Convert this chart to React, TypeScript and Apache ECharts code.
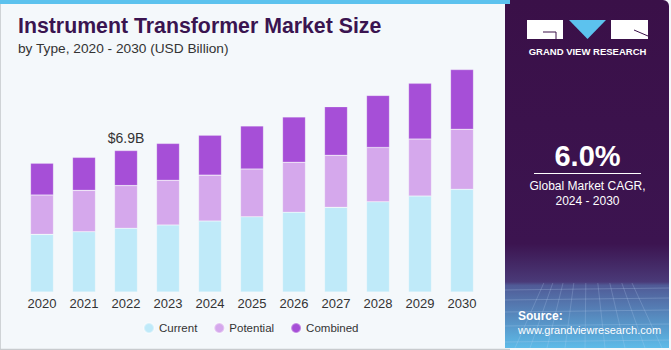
import React, { useEffect, useRef } from "react";
import * as echarts from "echarts";

const years = ["2020", "2021", "2022", "2023", "2024", "2025", "2026", "2027", "2028", "2029", "2030"];
const current = [2.81, 2.94, 3.11, 3.27, 3.46, 3.67, 3.89, 4.13, 4.4, 4.68, 5.01];
const potential = [1.92, 2.02, 2.08, 2.18, 2.24, 2.33, 2.44, 2.54, 2.65, 2.78, 2.93];
const combined = [1.55, 1.61, 1.71, 1.8, 1.95, 2.1, 2.21, 2.37, 2.54, 2.72, 2.91];
const seriesNames = ["Current", "Potential", "Combined"];
const annotatedIndex = 2;
const annotatedLabel = "$6.9B";

const colors = ["#bfeaf9", "#d5a8ec", "#a64fd7"];

export default function App() {
  const ref = useRef<HTMLDivElement>(null);
  useEffect(() => {
    document.body.style.margin = "0";
    const chart = echarts.init(ref.current!, null, { renderer: "svg" });
    const mk = (name: string, data: number[], color: string, withLabel: boolean) => ({
      name,
      type: "bar",
      stack: "total",
      barWidth: 23,
      data: data.map((v, i) =>
        withLabel && i === annotatedIndex
          ? {
              value: v,
              label: {
                show: true,
                position: "top",
                distance: 6,
                formatter: annotatedLabel,
                color: "#333",
                fontSize: 14,
                fontFamily: "Liberation Sans, Arial, sans-serif",
              },
            }
          : v
      ),
      itemStyle: { color, borderColor: "rgba(255,255,255,0.35)", borderWidth: 0.6 },
    });
    const font = "Liberation Sans, Arial, sans-serif";
    chart.setOption({
      animation: false,
      backgroundColor: "#f4f8fb",
      grid: { left: 21, right: 188, top: 46, bottom: 58, containLabel: false },
      xAxis: {
        type: "category",
        data: years,
        axisLine: { show: false },
        axisTick: { show: false },
        axisLabel: { color: "#333", fontSize: 13, margin: 5, fontFamily: font },
      },
      yAxis: { type: "value", min: 0, max: 12, show: false, splitLine: { show: false } },
      legend: {
        data: seriesNames,
        left: 138,
        top: 317,
        icon: "circle",
        itemWidth: 10,
        itemHeight: 10,
        itemGap: 16,
        textStyle: { color: "#333", fontSize: 11.5, fontFamily: font },
      },
      series: [
        mk(seriesNames[0], current, colors[0], false),
        mk(seriesNames[1], potential, colors[1], false),
        mk(seriesNames[2], combined, colors[2], true),
      ],
      graphic: [
        { type: "rect", shape: { x: 0, y: 0, width: 510, height: 4 }, style: { fill: "#5cc2ee" }, z: 10 },
        { type: "line", shape: { x1: 0.5, y1: 4, x2: 0.5, y2: 349 }, style: { stroke: "#cfd3d6", lineWidth: 1 } },
        { type: "line", shape: { x1: 0, y1: 349.5, x2: 510, y2: 349.5 }, style: { stroke: "#c8cbce", lineWidth: 1.5 } },
        {
          type: "text",
          left: 18,
          top: 15,
          style: { text: "Instrument Transformer Market Size", fill: "#3a1450", font: "900 21.3px Liberation Sans, Arial, sans-serif" },
        },
        {
          type: "text",
          left: 18,
          top: 41,
          style: { text: "by Type, 2020 - 2030 (USD Billion)", fill: "#333", font: "13.7px Liberation Sans, Arial, sans-serif" },
        },
        // right panel
        {
          type: "rect",
          shape: { x: 505, y: 0, width: 164, height: 348, r: [0, 6, 0, 0] },
          style: {
            fill: new echarts.graphic.LinearGradient(0, 0, 0, 1, [
              { offset: 0, color: "#3a1048" },
              { offset: 0.7, color: "#3c1450" },
              { offset: 0.81, color: "#4a3a78" },
              { offset: 0.82, color: "#505a96" },
              { offset: 1, color: "#5dbbe8" },
            ]),
          },
          z: 5,
        },
        ...[290, 300, 312, 326, 342].map((y) => ({
          type: "line",
          shape: { x1: 505, y1: y, x2: 669, y2: y - 2 },
          style: { stroke: "rgba(190,215,245,0.25)", lineWidth: 1 },
          z: 6,
        })),
        ...[515, 530, 547, 565, 585, 605, 625, 645, 662].map((x) => ({
          type: "line",
          shape: { x1: 587 + (x - 587) * 0.6, y1: 283, x2: x, y2: 348 },
          style: { stroke: "rgba(190,215,245,0.22)", lineWidth: 1 },
          z: 6,
        })),
        // logo
        { type: "rect", shape: { x: 527, y: 20, width: 36, height: 19 }, style: { fill: "#ffffff" }, z: 7 },
        { type: "line", shape: { x1: 543, y1: 32, x2: 556, y2: 32 }, style: { stroke: "#3a1048", lineWidth: 1 }, z: 8 },
        { type: "line", shape: { x1: 556, y1: 32, x2: 556, y2: 39 }, style: { stroke: "#3a1048", lineWidth: 1 }, z: 8 },
        { type: "polygon", shape: { points: [[569, 20], [606, 20], [587.5, 39]] }, style: { fill: "#5cc2ee" }, z: 7 },
        { type: "rect", shape: { x: 611, y: 20, width: 37, height: 19 }, style: { fill: "#ffffff" }, z: 7 },
        { type: "line", shape: { x1: 634, y1: 30, x2: 648, y2: 36 }, style: { stroke: "#3a1048", lineWidth: 1 }, z: 8 },
        {
          type: "text",
          x: 587.5,
          y: 51,
          style: {
            text: "GRAND VIEW RESEARCH",
            fill: "#ffffff",
            font: "bold 9.5px Liberation Sans, Arial, sans-serif",
            align: "center",
            verticalAlign: "middle",
          },
          z: 7,
        },
        {
          type: "text",
          x: 587.5,
          y: 156,
          style: { text: "6.0%", fill: "#ffffff", font: "bold 29px Liberation Sans, Arial, sans-serif", align: "center", verticalAlign: "middle" },
          z: 7,
        },
        { type: "line", shape: { x1: 534, y1: 173.5, x2: 641, y2: 173.5 }, style: { stroke: "#ffffff", lineWidth: 1 }, z: 7 },
        {
          type: "text",
          x: 587.5,
          y: 186,
          style: { text: "Global Market CAGR,", fill: "#ffffff", font: "12px Liberation Sans, Arial, sans-serif", align: "center", verticalAlign: "middle" },
          z: 7,
        },
        {
          type: "text",
          x: 587.5,
          y: 201,
          style: { text: "2024 - 2030", fill: "#ffffff", font: "12px Liberation Sans, Arial, sans-serif", align: "center", verticalAlign: "middle" },
          z: 7,
        },
        {
          type: "text",
          x: 518,
          y: 316,
          style: { text: "Source:", fill: "#ffffff", font: "bold 12px Liberation Sans, Arial, sans-serif", verticalAlign: "middle" },
          z: 7,
        },
        {
          type: "text",
          x: 518,
          y: 330,
          style: { text: "www.grandviewresearch.com", fill: "#ffffff", font: "11px Liberation Sans, Arial, sans-serif", verticalAlign: "middle" },
          z: 7,
        },
      ],
    });
    return () => chart.dispose();
  }, []);
  return <div ref={ref} style={{ width: 671, height: 350 }} />;
}
